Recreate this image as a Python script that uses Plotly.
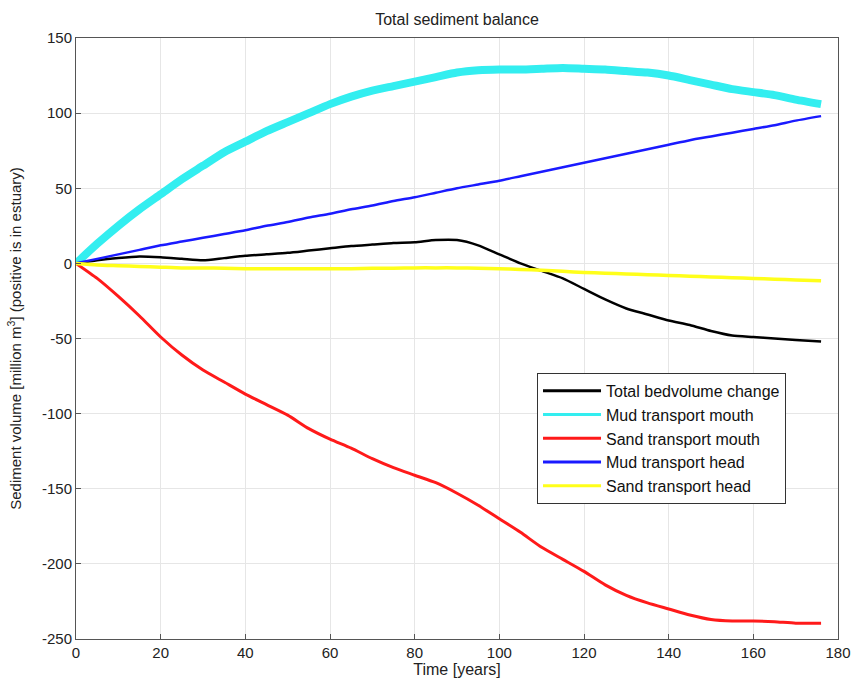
import plotly.graph_objects as go

years = [0, 5, 10, 15, 20, 25, 30, 35, 40, 45, 50, 55, 60, 65, 70, 75, 80, 85,
         90, 95, 100, 105, 110, 115, 120, 125, 130, 135, 140, 145, 150, 155,
         160, 165, 170, 176]

total_bedvolume = [0, 2, 3.5, 4.5, 4, 3, 2, 3.5, 5, 6, 7, 8.5, 10, 11.5, 12.5,
                   13.5, 14, 15.5, 15.5, 12, 6, 0, -5, -10, -17, -24, -30, -34,
                   -38, -41, -45, -48, -49, -50, -51, -52]

mud_mouth = [0, 13, 25, 36, 46, 56, 65, 74, 81, 88, 94, 100, 106, 111, 115,
             118, 121, 124, 127, 128.5, 129, 129, 129.5, 130, 129.5, 129, 128,
             127, 125, 122, 119, 116, 114, 112, 109, 106]

sand_mouth = [0, -10, -22, -35, -49, -61, -71, -79, -87, -94, -101, -110, -117,
              -123, -130, -136, -141, -146, -153, -161, -170, -179, -189, -197,
              -205, -214, -221, -226, -230, -234, -237, -238, -238, -238.5,
              -239.5, -239.5]

mud_head = [0, 3, 6, 9, 12, 14.5, 17, 19.5, 22, 25, 27.5, 30.5, 33, 36, 38.5,
            41.5, 44, 47, 50, 52.5, 55, 58, 61, 64, 67, 70, 73, 76, 79, 82,
            84.5, 87, 89.5, 92, 95, 98]

sand_head = [0, -1, -1.5, -2, -2.5, -3, -3, -3.2, -3.5, -3.5, -3.5, -3.5, -3.5,
             -3.5, -3.3, -3.2, -3, -3, -3, -3.2, -3.5, -4, -4.5, -5.3, -6,
             -6.5, -7, -7.5, -8, -8.5, -9, -9.5, -10, -10.5, -11, -11.5]

x_ticks = [0, 20, 40, 60, 80, 100, 120, 140, 160, 180]
y_ticks = [-250, -200, -150, -100, -50, 0, 50, 100, 150]
y_tick_labels = ["-250", "-200", "-150", "-100", "-50", "0", "50", "100", "150"]

series = [
    ("Total bedvolume change", total_bedvolume, "#000000", 2.5),
    ("Mud transport mouth", mud_mouth, "#33eef0", 8),
    ("Sand transport mouth", sand_mouth, "#ff1a1a", 3),
    ("Mud transport head", mud_head, "#1a1aff", 2.5),
    ("Sand transport head", sand_head, "#ffff1a", 3.5),
]

BASE = "Liberation Sans, Arial"

fig = go.Figure()
for name, vals, color, width in series:
    fig.add_trace(go.Scatter(x=years, y=vals, mode="lines", name=name,
                             showlegend=False,
                             line=dict(color=color, width=width, shape="spline",
                                       smoothing=0.6)))
# legend entries (thin sample lines, as in the reference)
for name, vals, color, width in series:
    fig.add_trace(go.Scatter(x=[None], y=[None], mode="lines", name=name,
                             line=dict(color=color, width=3)))

axis_common = dict(showgrid=True, gridcolor="#e6e6e6", gridwidth=1,
                   showline=True, linecolor="#555555", linewidth=1, mirror=True,
                   ticks="inside", ticklen=5, tickcolor="#555555",
                   zeroline=False, automargin=False,
                   tickfont=dict(family=BASE, size=15, color="#222222"))

fig.update_layout(
    width=853, height=684,
    margin=dict(l=76, r=15, t=38, b=45),
    paper_bgcolor="white", plot_bgcolor="white",
    title=dict(text="Total sediment balance", x=0.5, xanchor="center", xref="paper",
               y=1 - 19 / 684, yanchor="middle",
               font=dict(family=BASE, size=16, color="#222222")),
    xaxis=dict(range=[0, 180], tickvals=x_ticks,
               title=dict(text="Time [years]", standoff=2,
                          font=dict(family=BASE, size=16, color="#222222")),
               **axis_common),
    yaxis=dict(range=[-250, 150], tickvals=y_ticks, ticktext=y_tick_labels,
               title=dict(text="Sediment volume [million m<sup>3</sup>] (positive is in estuary)",
                          standoff=16,
                          font=dict(family=BASE, size=15, color="#222222")),
               **axis_common),
    legend=dict(x=0.605, y=0.443, xanchor="left", yanchor="top",
                bgcolor="white", bordercolor="#333333", borderwidth=1,
                font=dict(family=BASE, size=16, color="#111111"),
                itemwidth=58, tracegroupgap=0),
    showlegend=True,
)

fig.write_html("out.html",
               config={"displayModeBar": False},
               post_script="document.body.style.margin='0';"
                           "document.body.style.overflow='hidden';")
